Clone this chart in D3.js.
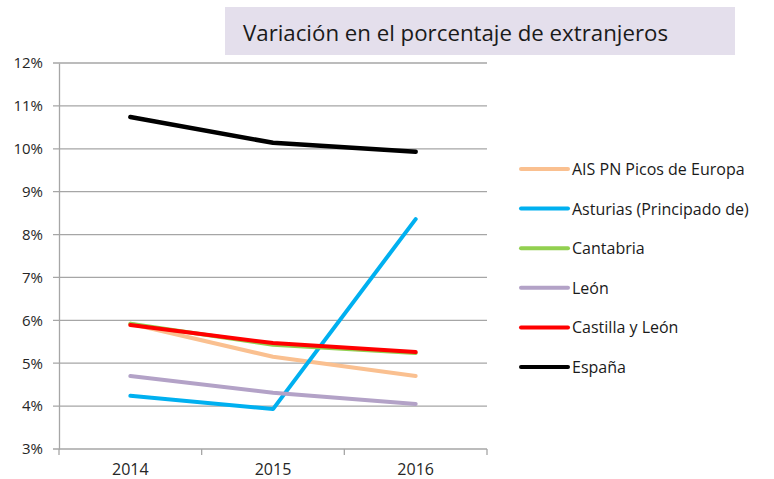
<!DOCTYPE html>
<html>
<head>
<meta charset="utf-8">
<script src="https://cdn.jsdelivr.net/npm/d3@7"></script>
<style>
  body { margin: 0; background: #fff; }
  text { font-family: "Open Sans", "Noto Sans", sans-serif; }
</style>
</head>
<body>
<div id="vis"></div>
<script>
// data
var years = ["2014", "2015", "2016"];
var seriesNames = ["AIS PN Picos de Europa", "Asturias (Principado de)", "Cantabria", "León", "Castilla y León", "España"];
var seriesColors = ["#fac090", "#00b0f0", "#92d050", "#b3a2c7", "#ff0000", "#000000"];
var picos = [0.0592, 0.0515, 0.0470];
var asturias = [0.0424, 0.0393, 0.0836];
var cantabria = [0.0592, 0.0543, 0.0524];
var leon = [0.0470, 0.0431, 0.0405];
var castilla = [0.0589, 0.0547, 0.0526];
var espana = [0.1074, 0.1014, 0.0993];
var yTicks = [0.03, 0.04, 0.05, 0.06, 0.07, 0.08, 0.09, 0.10, 0.11, 0.12];
var title = "Variación en el porcentaje de extranjeros";

var allSeries = [picos, asturias, cantabria, leon, castilla, espana].map(function (v, i) {
  return { name: seriesNames[i], color: seriesColors[i], values: v };
});

var width = 774, height = 479;
var margin = { top: 63, right: 287, bottom: 30, left: 59 },
  widthVis = width - margin.left - margin.right,
  heightVis = height - margin.top - margin.bottom;

var svg = d3.select("#vis")
  .append("svg")
  .attr("width", width)
  .attr("height", height);

////////// title //////////
svg.append("rect")
  .attr("x", 225)
  .attr("y", 7)
  .attr("width", 510)
  .attr("height", 48)
  .attr("fill", "#e4dfec");
svg.append("text")
  .attr("x", 243)
  .attr("y", 41)
  .attr("font-size", 22)
  .attr("fill", "#1a1a1a")
  .attr("textLength", 425)
  .attr("lengthAdjust", "spacingAndGlyphs")
  .text(title);

////////// scales //////////
var x = d3.scaleBand()
  .domain(years)
  .range([0, widthVis]);
var y = d3.scaleLinear()
  .domain([0.03, 0.12])
  .range([heightVis, 0]);

var g = svg.append("g")
  .attr("transform", "translate(" + margin.left + "," + margin.top + ")");

// gridlines
g.append("g")
  .selectAll("line")
  .data(yTicks)
  .enter()
  .append("line")
  .attr("x1", -6)
  .attr("x2", widthVis)
  .attr("y1", y)
  .attr("y2", y)
  .attr("stroke", "#a6a6a6")
  .attr("stroke-width", 1.3);

// y axis
var yAxis = g.append("g")
  .call(d3.axisLeft(y).tickValues(yTicks).tickFormat(d3.format(".0%")).tickSize(0).tickPadding(16));
yAxis.select(".domain").attr("stroke", "#a6a6a6").attr("stroke-width", 1.3);
yAxis.selectAll("text")
  .attr("font-size", 15)
  .attr("fill", "#262626")
  .attr("font-family", "'Open Sans', sans-serif");

// x axis
var xAxis = g.append("g")
  .attr("transform", "translate(0," + heightVis + ")");
xAxis.selectAll("line")
  .data(years.map(function (d) { return x(d); }).concat([widthVis]))
  .enter()
  .append("line")
  .attr("x1", function (d) { return d; })
  .attr("x2", function (d) { return d; })
  .attr("y1", 0)
  .attr("y2", 6)
  .attr("stroke", "#a6a6a6")
  .attr("stroke-width", 1.3);
xAxis.selectAll("text")
  .data(years)
  .enter()
  .append("text")
  .attr("x", function (d) { return x(d) + x.bandwidth() / 2; })
  .attr("y", 26)
  .attr("text-anchor", "middle")
  .attr("font-size", 16)
  .attr("fill", "#262626")
  .text(function (d) { return d; });

////////// lines //////////
var line = d3.line()
  .x(function (d, i) { return x(years[i]) + x.bandwidth() / 2; })
  .y(function (d) { return y(d); });

g.selectAll(".series")
  .data(allSeries)
  .enter()
  .append("path")
  .attr("class", "series")
  .attr("fill", "none")
  .attr("stroke", function (d) { return d.color; })
  .attr("stroke-width", function (d) { return d.name == "España" ? 4.5 : 4; })
  .attr("stroke-linejoin", "round")
  .attr("stroke-linecap", "round")
  .attr("d", function (d) { return line(d.values); });

////////// legend //////////
var legend = svg.append("g")
  .attr("transform", "translate(521,169)");
var item = legend.selectAll(".item")
  .data(allSeries)
  .enter()
  .append("g")
  .attr("class", "item")
  .attr("transform", function (d, i) { return "translate(0," + (i * 39.6) + ")"; });
item.append("line")
  .attr("x1", 0)
  .attr("x2", 47)
  .attr("stroke", function (d) { return d.color; })
  .attr("stroke-width", 4)
  .attr("stroke-linecap", "round");
item.append("text")
  .attr("x", 51)
  .attr("y", 6)
  .attr("font-size", 16)
  .attr("fill", "#1a1a1a")
  .text(function (d) { return d.name; });
</script>
</body>
</html>
